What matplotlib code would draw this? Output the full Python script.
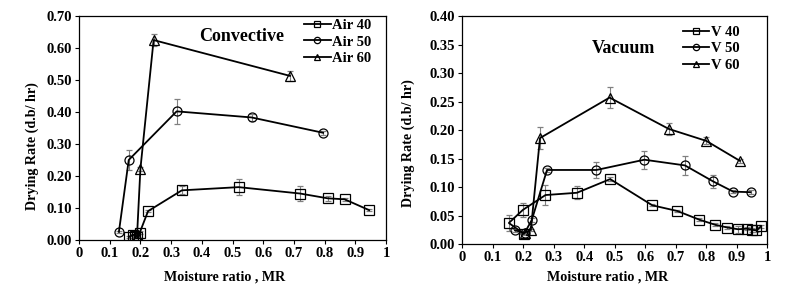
import numpy as np
import matplotlib.pyplot as plt

plt.rcParams['font.family'] = ['Liberation Serif', 'DejaVu Serif']
plt.rcParams['font.weight'] = 'bold'

# Convective drying
air40_mr = [0.163, 0.177, 0.184, 0.190, 0.198, 0.225, 0.335, 0.520, 0.720, 0.810, 0.865, 0.945]
air40_rate = [0.010, 0.016, 0.013, 0.008, 0.023, 0.090, 0.155, 0.165, 0.145, 0.130, 0.127, 0.093]
air40_err = [0.003, 0.003, 0.003, 0.003, 0.004, 0.004, 0.013, 0.025, 0.022, 0.008, 0.005, 0.004]

air50_mr = [0.130, 0.162, 0.318, 0.562, 0.795]
air50_rate = [0.025, 0.250, 0.402, 0.383, 0.335]
air50_err = [0.003, 0.032, 0.040, 0.010, 0.007]

air60_mr = [0.189, 0.200, 0.243, 0.687]
air60_rate = [0.012, 0.222, 0.625, 0.513]
air60_err = [0.003, 0.005, 0.020, 0.015]

# Vacuum drying
v40_mr = [0.202, 0.153, 0.199, 0.273, 0.376, 0.485, 0.623, 0.705, 0.776, 0.828, 0.869,
          0.904, 0.934, 0.950, 0.964, 0.979]
v40_rate = [0.018, 0.037, 0.060, 0.086, 0.090, 0.114, 0.068, 0.058, 0.043, 0.034, 0.029,
            0.026, 0.027, 0.025, 0.024, 0.031]
v40_err = [0.002, 0.014, 0.012, 0.017, 0.011, 0.004, 0.002, 0.002, 0.002, 0.003, 0.003,
           0.006, 0.003, 0.003, 0.003, 0.003]

v50_mr = [0.173, 0.205, 0.228, 0.278, 0.440, 0.597, 0.730, 0.822, 0.888, 0.945]
v50_rate = [0.024, 0.020, 0.042, 0.130, 0.130, 0.148, 0.138, 0.110, 0.092, 0.091]
v50_err = [0.002, 0.002, 0.003, 0.003, 0.014, 0.016, 0.016, 0.011, 0.003, 0.003]

v60_mr = [0.205, 0.225, 0.255, 0.483, 0.677, 0.800, 0.910]
v60_rate = [0.020, 0.025, 0.186, 0.257, 0.202, 0.181, 0.146]
v60_err = [0.002, 0.002, 0.020, 0.019, 0.010, 0.006, 0.004]

fig = plt.figure(figsize=(8.01, 2.98), dpi=100)
ax1 = fig.add_axes([0.0986, 0.195, 0.3834, 0.751])
ax2 = fig.add_axes([0.577, 0.181, 0.381, 0.765])

def draw(ax, mr, rate, err, marker):
    c = ax.errorbar(mr, rate, yerr=err, color='black', ecolor='grey', elinewidth=0.8,
                    capsize=2, capthick=0.8, lw=1.3, marker=marker, ms=6.5,
                    mfc='none', mec='black', mew=0.9)
    return c[0]

h1 = [draw(ax1, air40_mr, air40_rate, air40_err, 's'),
      draw(ax1, air50_mr, air50_rate, air50_err, 'o'),
      draw(ax1, air60_mr, air60_rate, air60_err, '^')]

h2 = [draw(ax2, v40_mr, v40_rate, v40_err, 's'),
      draw(ax2, v50_mr, v50_rate, v50_err, 'o'),
      draw(ax2, v60_mr, v60_rate, v60_err, '^')]

xticks = np.round(np.arange(0, 1.01, 0.1), 1)
xlabels = ['0'] + ['%.1f' % t for t in xticks[1:-1]] + ['1']

# (axes, ymax, step, ylabel pos, xlabel pos)
for ax, ymax, ystep, ypos, xpos in [(ax1, 0.7, 0.1, (-0.153, 0.42), (0.474, -0.165)),
                                    (ax2, 0.4, 0.05, (-0.177, 0.443), (0.475, -0.145))]:
    ax.set_xlim(0, 1)
    ax.set_ylim(0, ymax)
    ax.set_xticks(xticks)
    ax.set_xticklabels(xlabels)
    yt = np.arange(0, ymax + 1e-9, ystep)
    ax.set_yticks(yt)
    ax.set_yticklabels(['%.2f' % v for v in yt])
    ax.tick_params(direction='out', length=3, width=0.8, labelsize=10.5, pad=2)
    for s in ax.spines.values():
        s.set_linewidth(0.9)
    ax.set_xlabel('Moisture ratio , MR', fontsize=10.2, fontweight='bold', va='center')
    ax.set_ylabel('Drying Rate (d.b/ hr)', fontsize=10.2, fontweight='bold', va='center')
    ax.yaxis.set_label_coords(*ypos)
    ax.xaxis.set_label_coords(*xpos)

ax1.legend(h1, ['Air 40', 'Air 50', 'Air 60'], loc='upper left',
           bbox_to_anchor=(0.71, 1.02), frameon=False, fontsize=10.5, markerscale=0.7,
           handlelength=1.8, handletextpad=0.1, labelspacing=0.22, borderaxespad=0.1)
ax2.legend(h2, ['V 40', 'V 50', 'V 60'], loc='upper left',
           bbox_to_anchor=(0.7, 0.99), frameon=False, fontsize=10.5, markerscale=0.7,
           handlelength=1.8, handletextpad=0.1, labelspacing=0.22, borderaxespad=0.1)

ax1.text(0.53, 0.91, 'Convective', transform=ax1.transAxes, ha='center',
         va='center', fontsize=13, fontweight='bold')
ax2.text(0.53, 0.86, 'Vacuum', transform=ax2.transAxes, ha='center',
         va='center', fontsize=13, fontweight='bold')

fig.savefig('out.png', dpi=100)
